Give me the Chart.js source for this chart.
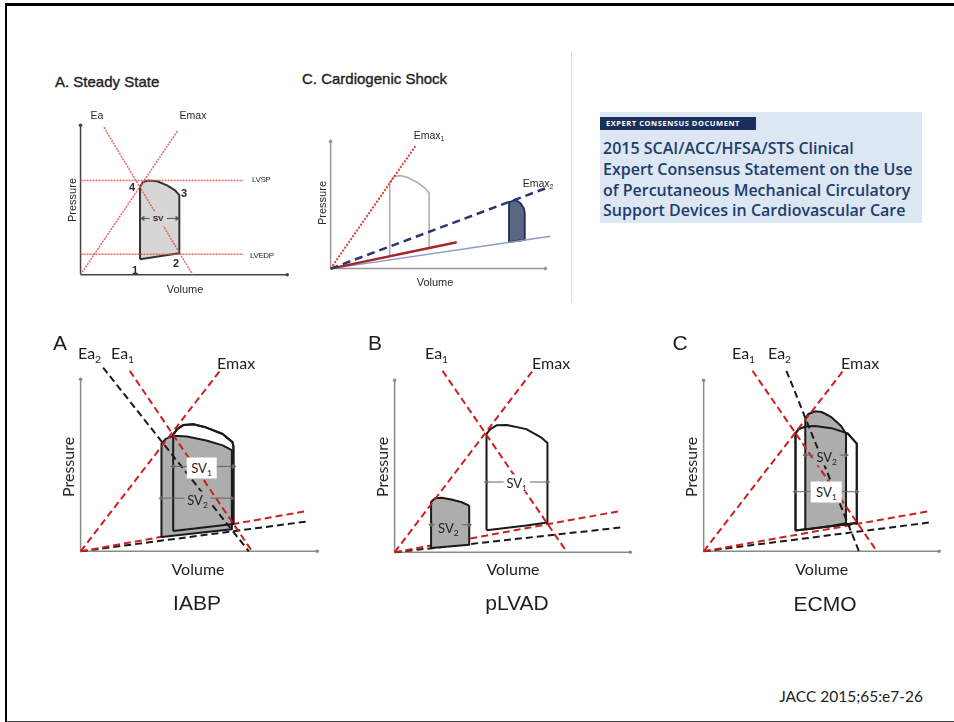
<!DOCTYPE html>
<html><head><meta charset="utf-8">
<script src="https://cdn.jsdelivr.net/npm/chart.js@4.4.1/dist/chart.umd.min.js"></script>
<style>
html,body{margin:0;padding:0;background:#fff}
body{width:954px;height:722px;position:relative;overflow:hidden;font-family:'Liberation Sans',Arial,sans-serif;color:#222}
#frame{position:absolute;left:5px;top:3px;width:960px;height:715px;border-top:3px solid #000;border-left:2.5px solid #000;border-bottom:2px solid #444;box-sizing:content-box}
.t{position:absolute;white-space:nowrap;line-height:1;z-index:3}
.c{transform:translate(-50%,-50%)}
.l{transform:translate(0,-50%)}
.r{transform:translate(-50%,-50%) rotate(-90deg)}
.sb{font-size:.65em;position:relative;top:.35em}
.ss{font-size:10.5px;color:#2a2a2a}
.bt{font-family:Lato,'Liberation Sans',sans-serif;font-size:16px;color:#1e1e1e}
.sv{font-family:Lato,'Liberation Sans',sans-serif;font-size:13px;color:#1e1e1e;padding:2px 3px}
.big{font-size:21px;color:#1e1e1e}
</style></head><body>
<div id="frame"></div>
<div style="position:absolute;left:571px;top:52px;width:1px;height:251px;background:#dcdcdc"></div>
<div id="charts"></div>

<!-- Top-left: steady state -->
<div class="t l" style="left:55px;top:80.5px;font-size:15px;-webkit-text-stroke:.35px #222">A. Steady State</div>
<div class="t c ss" style="left:97px;top:115px">Ea</div>
<div class="t c ss" style="left:193px;top:115px">Emax</div>
<div class="t l ss" style="left:252px;top:180px;font-size:8px;letter-spacing:-.4px">LVSP</div>
<div class="t l ss" style="left:250px;top:256px;font-size:8px;letter-spacing:-.4px">LVEDP</div>
<div class="t c ss" style="left:135px;top:270px;font-size:11px;font-weight:bold">1</div>
<div class="t c ss" style="left:176px;top:263px;font-size:11px;font-weight:bold">2</div>
<div class="t c ss" style="left:184px;top:193px;font-size:11px;font-weight:bold">3</div>
<div class="t c ss" style="left:132px;top:187px;font-size:11px;font-weight:bold">4</div>
<div class="t c ss" style="left:158px;top:219px;font-size:8px;font-weight:bold;background:#d6d6d6;padding:3px 3px">SV</div>
<div class="t r ss" style="left:72px;top:200px;font-size:11px">Pressure</div>
<div class="t c ss" style="left:185px;top:289px;font-size:11px">Volume</div>

<!-- Top-middle: cardiogenic shock -->
<div class="t l" style="left:302px;top:77.5px;font-size:15px;-webkit-text-stroke:.35px #222">C. Cardiogenic Shock</div>
<div class="t c ss" style="left:429px;top:135px">Emax<span class="sb">1</span></div>
<div class="t c ss" style="left:538px;top:183px">Emax<span class="sb">2</span></div>
<div class="t r ss" style="left:322px;top:203px;font-size:11px">Pressure</div>
<div class="t c ss" style="left:435px;top:282px;font-size:11px">Volume</div>

<!-- Consensus box -->
<div style="position:absolute;left:600px;top:112px;width:322px;height:111px;background:#dde7f3"></div>
<div style="position:absolute;left:600px;top:117px;width:156px;height:12.5px;background:#1b2f5e;color:#fff;font:bold 7.5px 'Open Sans',sans-serif;letter-spacing:.55px;line-height:12.5px;padding-left:6px;box-sizing:border-box;white-space:nowrap">EXPERT CONSENSUS DOCUMENT</div>
<div style="position:absolute;left:603px;top:138px;font:600 16px/20.8px 'Open Sans',sans-serif;color:#223c6c;white-space:nowrap">2015 SCAI/ACC/HFSA/STS Clinical<br>Expert Consensus Statement on the Use<br>of Percutaneous Mechanical Circulatory<br>Support Devices in Cardiovascular Care</div>

<!-- Bottom A: IABP -->
<div class="t c big" style="left:60px;top:342px">A</div>
<div class="t l bt" style="left:78px;top:353px">Ea<span class="sb">2</span></div>
<div class="t l bt" style="left:111px;top:353px">Ea<span class="sb">1</span></div>
<div class="t l bt" style="left:217px;top:363px">Emax</div>
<div class="t r bt" style="left:68px;top:467px">Pressure</div>
<div class="t c bt" style="left:198px;top:569px">Volume</div>
<div class="t c big" style="left:197px;top:602px">IABP</div>
<div class="t c sv" style="left:201.5px;top:468px;background:#fff;padding:4px 5px">SV<span class="sb">1</span></div>
<div class="t c sv" style="left:197.5px;top:500px;background:#adadad">SV<span class="sb">2</span></div>

<!-- Bottom B: pLVAD -->
<div class="t c big" style="left:375px;top:342px">B</div>
<div class="t l bt" style="left:425px;top:353px">Ea<span class="sb">1</span></div>
<div class="t l bt" style="left:532px;top:363px">Emax</div>
<div class="t r bt" style="left:381.7px;top:466.7px">Pressure</div>
<div class="t c bt" style="left:513px;top:569px">Volume</div>
<div class="t c big" style="left:517px;top:602px">pLVAD</div>
<div class="t c sv" style="left:516.7px;top:482.7px;background:#fff">SV<span class="sb">1</span></div>
<div class="t c sv" style="left:448.3px;top:528px;background:#adadad">SV<span class="sb">2</span></div>

<!-- Bottom C: ECMO -->
<div class="t c big" style="left:680px;top:342px">C</div>
<div class="t l bt" style="left:732px;top:353px">Ea<span class="sb">1</span></div>
<div class="t l bt" style="left:768px;top:353px">Ea<span class="sb">2</span></div>
<div class="t l bt" style="left:841px;top:363px">Emax</div>
<div class="t r bt" style="left:691px;top:466.7px">Pressure</div>
<div class="t c bt" style="left:821.7px;top:569.3px">Volume</div>
<div class="t c big" style="left:825px;top:602.7px">ECMO</div>
<div class="t c sv" style="left:826.7px;top:456.7px;background:#adadad">SV<span class="sb">2</span></div>
<div class="t c sv" style="left:826.3px;top:491.7px;background:#fff;padding:4px 5px">SV<span class="sb">1</span></div>

<div class="t" style="right:31px;top:689px;font-family:Lato,'Liberation Sans',sans-serif;font-size:15.5px;color:#222">JACC 2015;65:e7-26</div>

<script>
// ---------- Data (volume, pressure) per panel ----------
// Steady state
const ssAxisY = [[0,0],[0,154]];
const ssAxisX = [[0,0],[212,0]];
const ssEmax  = [[0,0],[100,149]];
const ssEa    = [[24,152],[115,0]];
const ssLVSP  = [[0,97],[167,97]];
const ssLVEDP = [[0,21],[167,21]];
const ssLoop  = [[61,16],[61,90],[63.7,95.3],[68.7,97],[78.7,96.3],[88.7,92],[97,87],[101.3,82],[101.3,22]];
const ssSV    = [[64,58],[99,58]];

// Cardiogenic shock
const csAxisY = [[0,0],[0,130]];
const csAxisX = [[0,0],[218,0]];
const csEmax1 = [[0,0],[86,125]];
const csEmax2 = [[0,0],[218,82]];
const csEdpvr2 = [[0,0],[223,33]];
const csEdpvr1 = [[0,0],[128,27]];
const csLoop1 = [[60,13],[60,88],[64,94],[71,95],[77.7,93.3],[87.7,88.3],[96,82],[100,77],[100,21]];
const csLoop2 = [[181,27],[181,68],[187.7,70],[192.7,66.7],[196,61.7],[197,57],[197,29.5]];

// IABP
const iaAxisY = [[0,0],[0,177]];
const iaAxisX = [[0,0],[242,0]];
const iaEmax  = [[0,0],[143.7,187.3]];
const iaEa1   = [[50.3,185.7],[175.3,0]];
const iaEa2   = [[23,189],[172,0]];
const iaEdpvr1 = [[0,0],[230.3,41.3]];
const iaEdpvr2 = [[0,0],[232,30.7]];
const iaLoop1 = [[94.7,21],[94.7,120],[98.7,125.7],[105.3,130],[115.3,130.7],[128.7,127.3],[145.3,120.7],[155.3,112.3],[156.3,108],[156.3,28]];
const iaLoop2 = [[82.7,14.7],[82.7,110.7],[87,115.7],[95.3,119],[108.7,118],[128.7,114],[145.3,109],[154.7,104],[154.7,22.7]];
const iaSV1   = [[94.7,87.3],[156.3,87.3]];
const iaSV2   = [[82.7,54.7],[154.7,54.7]];

// pLVAD
const lvAxisY = [[0,0],[0,177]];
const lvAxisX = [[0,0],[241,0]];
const lvEmax  = [[0,0],[142,187.7]];
const lvEa1   = [[49,186.7],[176.3,0]];
const lvEdpvr1 = [[0,0],[229.7,42.3]];
const lvEdpvr2 = [[0,0],[233,25.7]];
const lvLoop1 = [[94,22.7],[94,121.7],[98,126.7],[104.7,130.7],[114.7,131],[134.7,126.7],[149.7,118.3],[156.3,112.3],[156.3,30.7],[134.7,27.5]];
const lvLoop2 = [[37.3,4.3],[37.3,51.7],[41.3,55.7],[48,56],[58,54.3],[68,51.7],[75.7,48.3],[76.3,47],[76.3,7.7]];
const lvSV1   = [[94,72.3],[156.3,72.3]];
const lvSV2   = [[37.3,28.3],[76.3,28.3]];

// ECMO
const ecAxisY = [[0,0],[0,176]];
const ecAxisX = [[0,0],[241,0]];
const ecEmax  = [[0,0],[144,187.3]];
const ecEa1   = [[50,185.7],[177.3,0]];
const ecEa2   = [[84.7,185.7],[159,0]];
const ecEdpvr1 = [[0,0],[230.7,41.3]];
const ecEdpvr2 = [[0,0],[234,30]];
const ecLoop1 = [[94,21.3],[94,121.3],[97.3,125.7],[104,128.3],[114,129],[130.7,126.7],[147.3,121.3],[156.7,110.7],[156.7,29]];
const ecLoop2 = [[104,22.3],[104,136.7],[107.3,141.3],[114,144],[120.7,143.3],[130.7,138],[140.7,129],[145.7,120.7],[145.7,29],[132,26.3]];
const ecSV2   = [[104,99],[145.7,99]];
const ecSV1   = [[94,61.3],[156.7,61.3]];

// ---------- helpers ----------
function pts(a){return a.map(p=>({x:p[0],y:p[1]}));}
function seg(a,color,w,dash){return {data:pts(a),showLine:true,borderColor:color,borderWidth:w,borderDash:dash||[],pointRadius:0,pointHoverRadius:0,fill:false,clip:false,tension:0,borderCapStyle:'butt'};}
function axis(a,color){const d=seg(a,color,1.5);d.pointRadius=[0,1.8];d.pointBackgroundColor=color;d.pointBorderWidth=0;return d;}
function loop(a,stroke,bg,w){const d=seg(a.concat([a[0]]),stroke,w);if(bg){d.fill='shape';d.backgroundColor=bg;}d.borderJoinStyle='round';return d;}
function arrow(a,color){const d=seg(a,color,1);d.pointRadius=3;d.pointStyle='triangle';d.pointRotation=[270,90];d.pointBackgroundColor=color;d.pointBorderWidth=0;return d;}

function makeChart(box,origin,sets){
  const c=document.createElement('canvas');c.width=box[2];c.height=box[3];
  c.style.cssText='position:absolute;left:'+box[0]+'px;top:'+box[1]+'px;width:'+box[2]+'px;height:'+box[3]+'px;z-index:1';
  document.getElementById('charts').appendChild(c);
  const n=sets.length;sets.forEach((s,i)=>{s.order=n-i;});
  new Chart(c,{type:'scatter',data:{datasets:sets},options:{responsive:false,animation:false,devicePixelRatio:1,events:[],
    layout:{padding:0},plugins:{legend:{display:false},tooltip:{enabled:false}},
    scales:{x:{type:'linear',display:false,min:box[0]-origin[0],max:box[0]+box[2]-origin[0]},
            y:{type:'linear',display:false,min:origin[1]-(box[1]+box[3]),max:origin[1]-box[1]}}}});
}

const RED='#cc1f1f', BLK='#1a1a1a', GRY='#adadad', AX='#8a8a8a', DASH=[7,4];
const SSR='rgba(226,86,86,0.9)';

// Steady state
makeChart([60,100,240,200],[78,277],[
  axis(ssAxisY,'#444'),axis(ssAxisX,'#444'),
  loop(ssLoop,'#333','#d6d6d6',2),
  seg(ssLVSP,SSR,1.5,[2,1]),seg(ssLVEDP,SSR,1.5,[2,1]),
  seg(ssEmax,SSR,1.5,[2,1]),seg(ssEa,SSR,1.5,[2,1]),
  arrow(ssSV,'#555')
]);

// Cardiogenic shock
makeChart([315,120,250,170],[329,270],[
  axis(csAxisY,'#999'),axis(csAxisX,'#999'),
  loop(csLoop1,'#b0b0b0',null,1.6),
  loop(csLoop2,'#1e2b5e','#5b6683',1.8),
  seg(csEdpvr2,'#8b98c8',1.5),
  seg(csEdpvr1,'#a3262b',2.5),
  seg(csEmax1,'#e03a3a',2,[2,1.5]),
  seg(csEmax2,'#2a3674',2.5,[8,5])
]);

// IABP
makeChart([60,350,270,215],[78,554],[
  axis(iaAxisY,AX),axis(iaAxisX,AX),
  seg(iaEdpvr2,BLK,2,DASH),seg(iaEdpvr1,RED,2,DASH),
  loop(iaLoop1,BLK,'#ffffff',2),
  loop(iaLoop2,BLK,GRY,2),
  loop(iaLoop1,BLK,null,2),
  seg(iaEmax,RED,2,DASH),seg(iaEa2,BLK,2,DASH),seg(iaEa1,RED,2,DASH),
  arrow(iaSV1,'#666'),arrow(iaSV2,'#666')
]);

// pLVAD
makeChart([375,350,270,215],[392,555],[
  axis(lvAxisY,AX),axis(lvAxisX,AX),
  seg(lvEdpvr2,BLK,2,DASH),seg(lvEdpvr1,RED,2,DASH),
  loop(lvLoop1,BLK,'#ffffff',2),
  loop(lvLoop2,BLK,GRY,2),
  seg(lvEmax,RED,2,DASH),seg(lvEa1,RED,2,DASH),
  arrow(lvSV1,'#666'),arrow(lvSV2,'#666')
]);

// ECMO
makeChart([685,350,265,215],[701,554],[
  axis(ecAxisY,AX),axis(ecAxisX,AX),
  seg(ecEdpvr2,BLK,2,DASH),seg(ecEdpvr1,RED,2,DASH),
  loop(ecLoop1,BLK,'#ffffff',2),
  loop(ecLoop2,BLK,GRY,2),
  loop(ecLoop1,BLK,null,2),
  seg(ecEmax,RED,2,DASH),seg(ecEa1,RED,2,DASH),seg(ecEa2,BLK,2,DASH),
  arrow(ecSV2,'#666'),arrow(ecSV1,'#666')
]);
</script>
</body></html>
